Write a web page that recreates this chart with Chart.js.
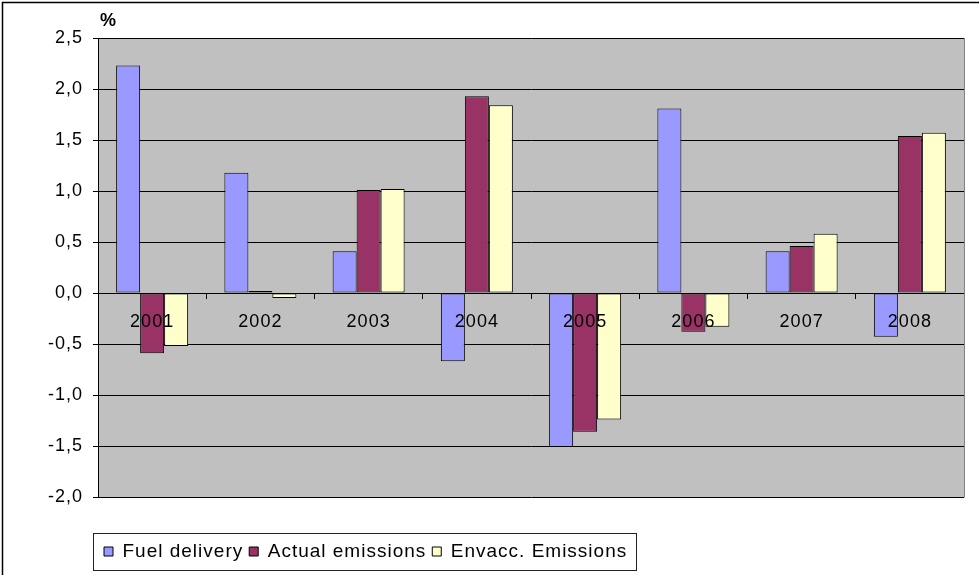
<!DOCTYPE html>
<html>
<head>
<meta charset="utf-8">
<script src="https://cdn.jsdelivr.net/npm/chart.js@4/dist/chart.umd.min.js"></script>
<style>
  html, body { margin: 0; padding: 0; background: #fff; }
  #wrap { position: relative; width: 979px; height: 575px; }
</style>
</head>
<body>
<div id="wrap"><canvas id="chart"></canvas></div>
<script>
// Annual change, %
const years = ['2001', '2002', '2003', '2004', '2005', '2006', '2007', '2008'];
const fuelDelivery    = [2.23, 1.18, 0.41, -0.67, -1.51, 1.81, 0.41, -0.43];
const actualEmissions = [-0.59, 0.02, 1.01, 1.93, -1.36, -0.38, 0.46, 1.54];
const envAccEmissions = [-0.52, -0.05, 1.02, 1.84, -1.24, -0.33, 0.58, 1.57];
const seriesNames = ['Fuel delivery', 'Actual emissions', 'Envacc. Emissions'];
const yMin = -2.0, yMax = 2.5, yStep = 0.5;

const FONT = 'Liberation Sans, Arial, sans-serif';

// slightly wider text spacing, reapplied after any canvas resize
const spacing = {
  id: 'spacing',
  beforeUpdate(chart) { chart.ctx.letterSpacing = '1px'; },
  beforeDraw(chart) { chart.ctx.letterSpacing = '1px'; }
};

// grey plot background, plot frame, outer frame, unit label and legend box
const decor = {
  id: 'decor',
  beforeDraw(chart) {
    const { ctx, chartArea: a } = chart;
    ctx.save();
    ctx.fillStyle = '#c0c0c0';
    ctx.fillRect(a.left, a.top, a.right - a.left, a.bottom - a.top);
    ctx.restore();
  },
  afterDraw(chart) {
    const { ctx, chartArea: a } = chart;
    ctx.save();
    // right edge of the plot
    ctx.strokeStyle = '#808080';
    ctx.lineWidth = 1;
    ctx.beginPath();
    ctx.moveTo(Math.round(a.right) + 0.5, a.top);
    ctx.lineTo(Math.round(a.right) + 0.5, a.bottom + 0.5);
    ctx.stroke();
    // outer frame
    ctx.strokeStyle = '#000';
    ctx.lineWidth = 1.5;
    ctx.beginPath();
    ctx.moveTo(2.5, chart.height);
    ctx.lineTo(2.5, 2.5);
    ctx.lineTo(chart.width, 2.5);
    ctx.stroke();
    // unit
    ctx.fillStyle = '#000';
    ctx.font = 'bold 18px ' + FONT;
    ctx.textBaseline = 'middle';
    ctx.textAlign = 'left';
    ctx.fillText('%', a.left + 2, 21);
    // legend frame
    const hb = chart.legend.legendHitBoxes;
    if (hb && hb.length) {
      const first = hb[0], last = hb[hb.length - 1];
      const cy = first.top + first.height / 2;
      const x0 = Math.round(first.left - 11) + 0.5;
      const x1 = Math.round(last.left + last.width + 9) + 0.5;
      ctx.strokeStyle = '#222';
      ctx.lineWidth = 1;
      ctx.strokeRect(x0, Math.round(cy - 18.5) + 0.5, x1 - x0, 37);
    }
    ctx.restore();
  }
};

const barStyle = { borderColor: '#000', borderWidth: 1, borderSkipped: false };

new Chart(document.getElementById('chart'), {
  type: 'bar',
  data: {
    labels: years,
    datasets: [
      { label: seriesNames[0], data: fuelDelivery,    backgroundColor: '#9999ff', ...barStyle },
      { label: seriesNames[1], data: actualEmissions, backgroundColor: '#993366', ...barStyle },
      { label: seriesNames[2], data: envAccEmissions, backgroundColor: '#ffffcc', ...barStyle }
    ]
  },
  options: {
    responsive: true,
    maintainAspectRatio: false,
    animation: false,
    datasets: { bar: { categoryPercentage: 0.665, barPercentage: 1.0 } },
    layout: { padding: { top: 38, right: 15, bottom: 4, left: 0 } },
    plugins: {
      tooltip: { enabled: false },
      legend: {
        position: 'bottom',
        align: 'start',
        fullSize: false,
        title: { display: true, text: '', font: { size: 10 }, padding: { top: 0, bottom: 27 } },
        labels: {
          boxWidth: 9,
          boxHeight: 9,
          padding: 6,
          color: '#000',
          font: { family: FONT, size: 19 }
        }
      }
    },
    scales: {
      x: {
        type: 'category',
        position: { y: 0 },
        offset: true,
        grid: {
          display: true,
          offset: true,
          drawOnChartArea: false,
          drawTicks: true,
          tickLength: 5,
          color: '#000',
          z: 1
        },
        border: { display: true, color: '#000', width: 1, z: 1 },
        ticks: {
          color: '#000',
          padding: 13,
          maxRotation: 0,
          autoSkip: false,
          z: 1,
          font: { family: FONT, size: 18 }
        }
      },
      y: {
        position: 'left',
        min: yMin,
        max: yMax,
        afterFit(scale) { scale.width = 98; },
        grid: { color: '#000', lineWidth: 1, drawTicks: true, tickLength: 5 },
        border: { display: true, color: '#000', width: 1 },
        ticks: {
          stepSize: yStep,
          color: '#000',
          padding: 10,
          font: { family: FONT, size: 18 },
          callback: v => v.toFixed(1).replace('.', ',')
        }
      }
    }
  },
  plugins: [spacing, decor]
});
</script>
</body>
</html>
